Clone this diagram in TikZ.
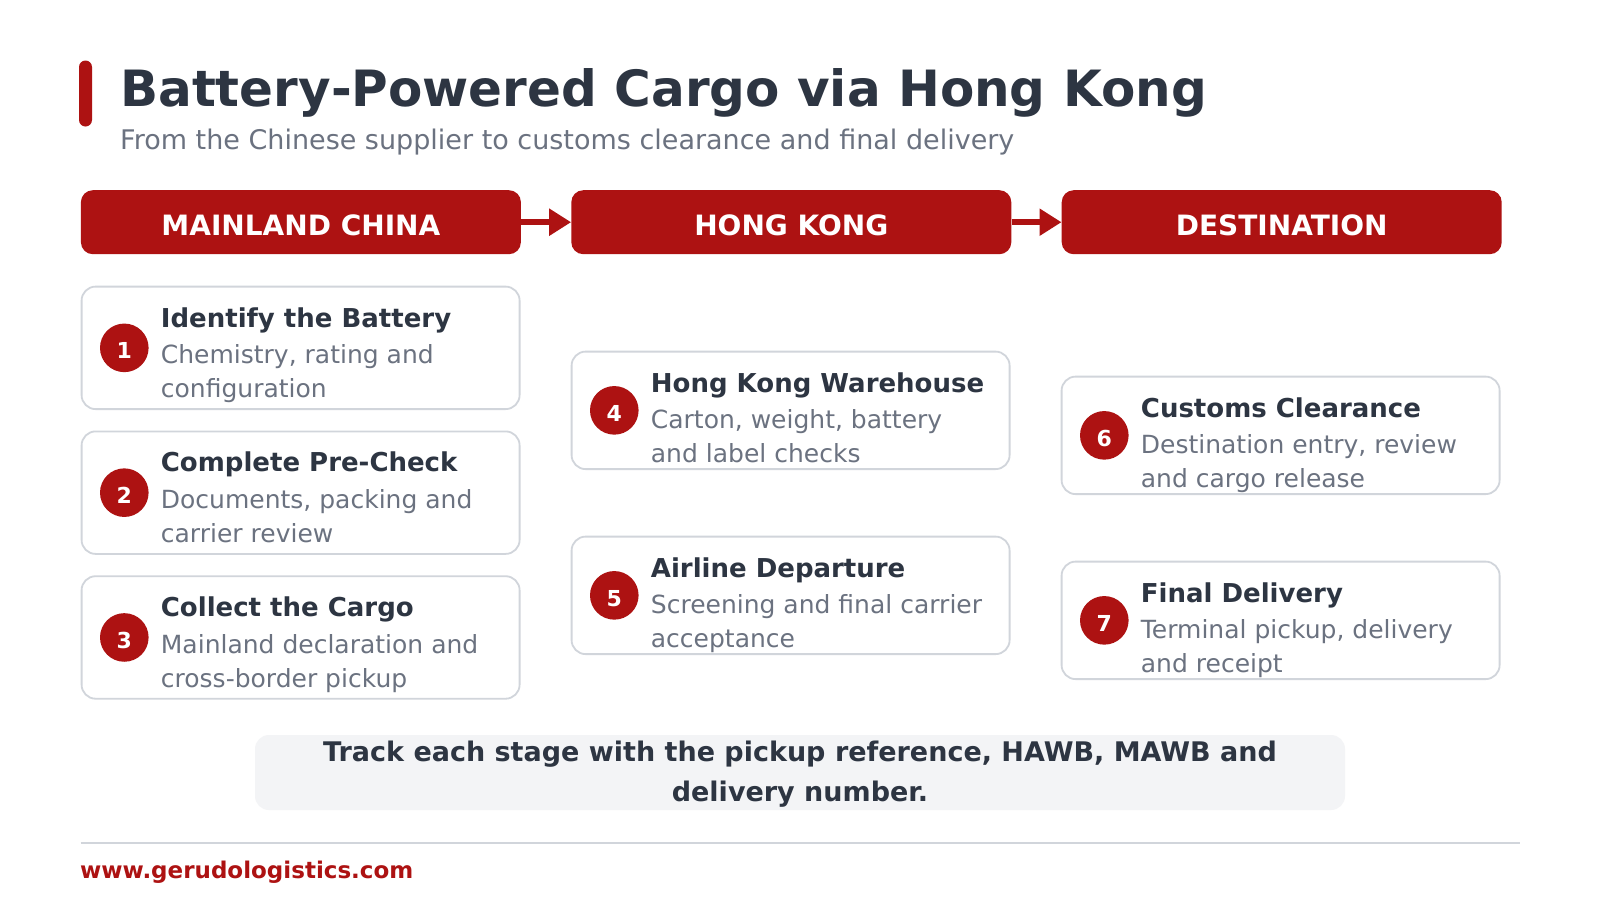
\documentclass[tikz,border=0pt]{standalone}
\usepackage{fontspec}
\setmainfont{DejaVu Sans}
\usepackage{xcolor}
\usetikzlibrary{arrows.meta, positioning}

\definecolor{brand}{RGB}{173,18,18}
\definecolor{ink}{RGB}{45,53,66}
\definecolor{muted}{RGB}{107,114,128}
\definecolor{edge}{RGB}{209,213,219}
\definecolor{panel}{RGB}{243,244,246}

\begin{document}
\begin{tikzpicture}[
    x=1pt, y=-1pt,
    node distance=20.5pt and 50pt,
    region/.style={rectangle, fill=brand, rounded corners=12pt, minimum width=440pt, minimum height=64pt, inner sep=0pt, text=white, text height=26pt, text depth=0pt, font=\fontsize{28}{34}\selectfont\bfseries},
    card/.style={rectangle, draw=edge, line width=1.8pt, fill=white, rounded corners=14pt, minimum width=438pt, minimum height=117.5pt, inner sep=0pt},
    num/.style={circle, fill=brand, minimum size=48.6pt, inner sep=0pt, text=white, text height=22pt, text depth=0pt, font=\fontsize{22}{26}\selectfont\bfseries},
    steptitle/.style={anchor=base west, inner sep=0pt, text=ink, font=\fontsize{26}{31}\selectfont\bfseries},
    stepdesc/.style={anchor=base west, inner sep=0pt, align=left, text=muted, font=\fontsize{25}{34}\selectfont},
    flowarr/.style={-{Triangle[length=22pt, width=26pt]}, line width=6pt, brand}
]
\path[use as bounding box, fill=white] (0,0) rectangle (1600,900);

% heading
\node[fill=brand, rounded corners=6.5pt, minimum width=13pt, minimum height=66pt, inner sep=0pt] (bar) at (85.5,93.5) {};
\node[anchor=base west, inner sep=0pt, text=ink, font=\fontsize{50}{60}\selectfont\bfseries] (title) at (120,106) {Battery-Powered Cargo via Hong Kong};
\node[anchor=base west, inner sep=0pt, text=muted, font=\fontsize{27}{32}\selectfont] (subtitle) at (120,149) {From the Chinese supplier to customs clearance and final delivery};

% regions
\node[region, anchor=north west] (mainland) at (80.7,190) {MAINLAND CHINA};
\node[region, right=of mainland] (hongkong) {HONG KONG};
\node[region, right=of hongkong] (dest) {DESTINATION};
\draw[flowarr] (mainland) -- (hongkong);
\draw[flowarr] (hongkong) -- (dest);

% mainland steps (desc anchored on its last line)
\node[card, minimum height=122.5pt, anchor=north west] (c1) at (80.7,285.7) {};
\node[num] (n1) at ([xshift=43.6pt]c1.west) {1};
\node[steptitle] (t1) at ([xshift=80pt, yshift=-41.3pt]c1.north west) {Identify the Battery};
\node[stepdesc] (d1) at ([xshift=80pt, yshift=-112pt]c1.north west) {Chemistry, rating and\\configuration};

\node[card, minimum height=122.5pt, below=of c1] (c2) {};
\node[num] (n2) at ([xshift=43.6pt]c2.west) {2};
\node[steptitle] (t2) at ([xshift=80pt, yshift=-41.3pt]c2.north west) {Complete Pre-Check};
\node[stepdesc] (d2) at ([xshift=80pt, yshift=-112pt]c2.north west) {Documents, packing and\\carrier review};

\node[card, minimum height=122.5pt, below=of c2] (c3) {};
\node[num] (n3) at ([xshift=43.6pt]c3.west) {3};
\node[steptitle] (t3) at ([xshift=80pt, yshift=-41.3pt]c3.north west) {Collect the Cargo};
\node[stepdesc] (d3) at ([xshift=80pt, yshift=-112pt]c3.north west) {Mainland declaration and\\cross-border pickup};

% hong kong steps
\node[card, anchor=north west] (c4) at (570.7,350.7) {};
\node[num] (n4) at ([xshift=43.6pt]c4.west) {4};
\node[steptitle] (t4) at ([xshift=80pt, yshift=-41.3pt]c4.north west) {Hong Kong Warehouse};
\node[stepdesc] (d4) at ([xshift=80pt, yshift=-112pt]c4.north west) {Carton, weight, battery\\and label checks};

\node[card, below=65.7pt of c4] (c5) {};
\node[num] (n5) at ([xshift=43.6pt]c5.west) {5};
\node[steptitle] (t5) at ([xshift=80pt, yshift=-41.3pt]c5.north west) {Airline Departure};
\node[stepdesc] (d5) at ([xshift=80pt, yshift=-112pt]c5.north west) {Screening and final carrier\\acceptance};

% destination steps
\node[card, anchor=north west] (c6) at (1060.7,375.7) {};
\node[num] (n6) at ([xshift=43.6pt]c6.west) {6};
\node[steptitle] (t6) at ([xshift=80pt, yshift=-41.3pt]c6.north west) {Customs Clearance};
\node[stepdesc] (d6) at ([xshift=80pt, yshift=-112pt]c6.north west) {Destination entry, review\\and cargo release};

\node[card, below=65.7pt of c6] (c7) {};
\node[num] (n7) at ([xshift=43.6pt]c7.west) {7};
\node[steptitle] (t7) at ([xshift=80pt, yshift=-41.3pt]c7.north west) {Final Delivery};
\node[stepdesc] (d7) at ([xshift=80pt, yshift=-112pt]c7.north west) {Terminal pickup, delivery\\and receipt};

% tracking note
\node[fill=panel, rounded corners=14pt, minimum width=1090pt, minimum height=75pt, inner sep=0pt] (notebox) at (800,772.5) {};
\node[anchor=base, inner sep=0pt, align=center, text=ink, font=\fontsize{27}{40}\selectfont\bfseries] (note) at (800,801) {Track each stage with the pickup reference, HAWB, MAWB and\\delivery number.};

% footer
\draw[edge, line width=2pt] (80.7,843) -- (1520,843);
\node[anchor=base west, inner sep=0pt, text=brand, font=\fontsize{23}{28}\selectfont\bfseries] (url) at (80,878) {www.gerudologistics.com};
\end{tikzpicture}
\end{document}
